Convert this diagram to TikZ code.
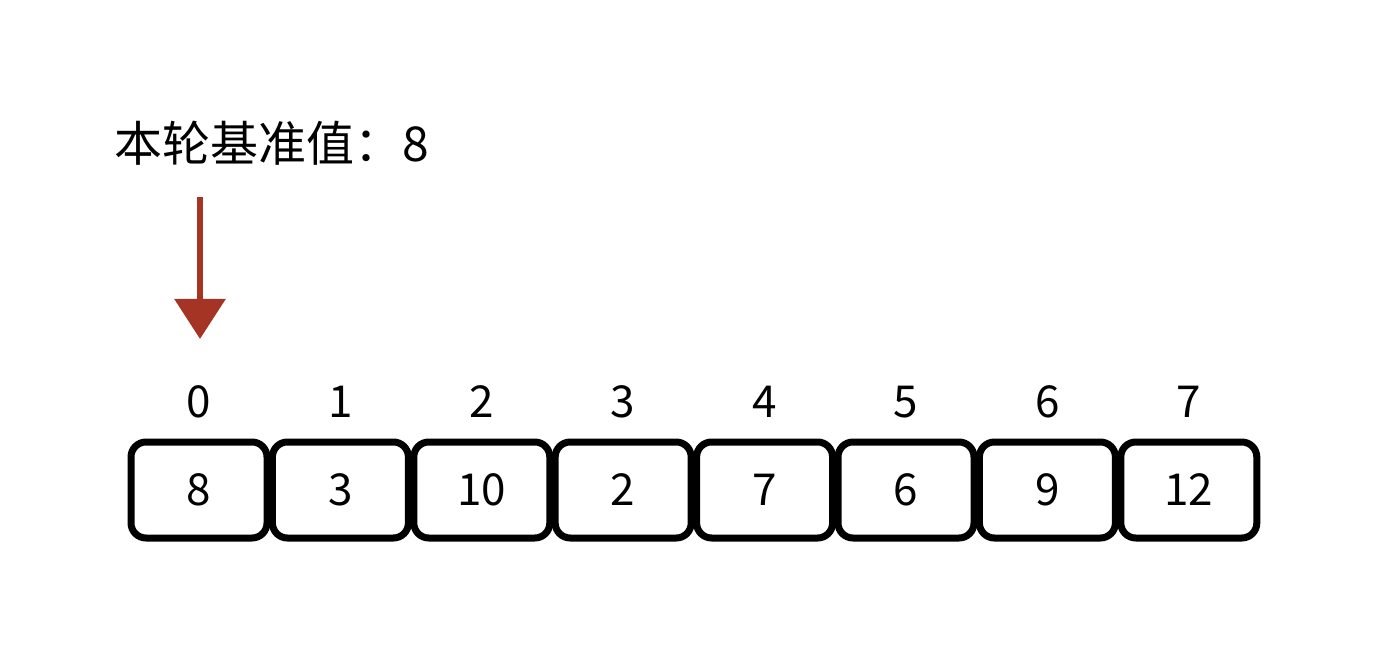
\documentclass[tikz,border=0pt]{standalone}
\usepackage{fontspec}
\setmainfont{Noto Sans CJK SC}
\usetikzlibrary{arrows.meta}
\definecolor{pivotred}{RGB}{166,52,36}
\tikzset{
  cell/.style={draw,line width=7pt,rounded corners=15pt,minimum width=136pt,minimum height=96pt,
    inner sep=0pt,font=\fontsize{44}{50}\selectfont},
  idx/.style={inner sep=0pt,font=\fontsize{44}{50}\selectfont},
  pivotarrow/.style={line width=6pt,pivotred,-{Triangle[width=50pt,length=40pt]}}
}
\begin{document}
\begin{tikzpicture}[x=1pt,y=-1pt]
        \useasboundingbox (0,0) rectangle (1398,668);
        \node[anchor=west,inner sep=0pt,font=\fontsize{48}{56}\selectfont] (title) at (114,143) {本轮基准值：8};
        \foreach \v [count=\i from 0] in {8,3,10,2,7,6,9,12} {
            \node[idx] (i\i) at (199+141.4*\i,402) {\i};
            \node[cell] (c\i) at (199+141.4*\i,490) {\v};
        }
        \coordinate (pivottop) at (200,197);
        \coordinate (pivottip) at (200,339);
        \draw[pivotarrow] (pivottop) -- (pivottip);
    \end{tikzpicture}
\end{document}
